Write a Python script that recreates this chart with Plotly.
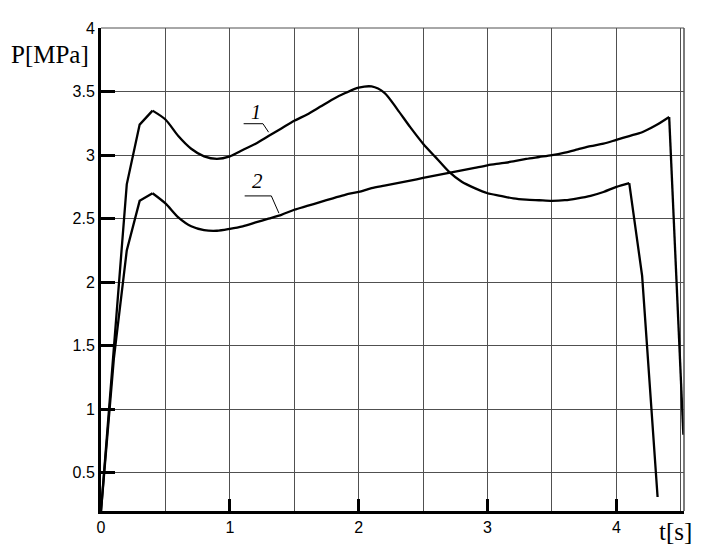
import plotly.graph_objects as go

# Curve 1
t1 = [0.0, 0.1, 0.2, 0.3, 0.4, 0.5, 0.6, 0.7, 0.8, 0.9, 1.0, 1.1, 1.2, 1.3, 1.4,
      1.5, 1.6, 1.7, 1.8, 1.9, 2.0, 2.1, 2.2, 2.3, 2.4, 2.5, 2.6, 2.7, 2.8, 2.9,
      3.0, 3.1, 3.2, 3.3, 3.4, 3.5, 3.6, 3.7, 3.8, 3.9, 4.0, 4.1, 4.2, 4.32]
p1 = [0.2, 1.5, 2.77, 3.24, 3.35, 3.28, 3.15, 3.05, 2.99, 2.97, 2.99, 3.04, 3.09,
      3.15, 3.21, 3.27, 3.32, 3.38, 3.44, 3.49, 3.53, 3.54, 3.49, 3.36, 3.22, 3.09,
      2.98, 2.87, 2.79, 2.74, 2.70, 2.68, 2.66, 2.65, 2.645, 2.64, 2.645, 2.66,
      2.68, 2.71, 2.75, 2.78, 2.05, 0.31]

# Curve 2
t2 = [0.0, 0.1, 0.2, 0.3, 0.4, 0.5, 0.6, 0.7, 0.8, 0.9, 1.0, 1.1, 1.2, 1.3, 1.4,
      1.5, 1.6, 1.7, 1.8, 1.9, 2.0, 2.1, 2.2, 2.3, 2.4, 2.5, 2.6, 2.7, 2.8, 2.9,
      3.0, 3.1, 3.2, 3.3, 3.4, 3.5, 3.6, 3.7, 3.8, 3.9, 4.0, 4.1, 4.2, 4.3, 4.41, 4.52]
p2 = [0.2, 1.4, 2.25, 2.64, 2.70, 2.62, 2.51, 2.44, 2.41, 2.405, 2.42, 2.44, 2.47,
      2.50, 2.53, 2.57, 2.60, 2.63, 2.66, 2.69, 2.71, 2.74, 2.76, 2.78, 2.80, 2.82,
      2.84, 2.86, 2.88, 2.90, 2.92, 2.935, 2.95, 2.97, 2.985, 3.00, 3.02, 3.045,
      3.07, 3.09, 3.12, 3.15, 3.18, 3.23, 3.30, 0.80]

x_ticks = [0, 1, 2, 3, 4]
x_ticklabels = ["0", "1", "2", "3", "4"]
y_ticks = [0.5, 1, 1.5, 2, 2.5, 3, 3.5, 4]
y_ticklabels = ["0.5", "1", "1.5", "2", "2.5", "3", "3.5", "4"]

XR = [0, 4.525]
YR = [0.2, 4.0]

fig = go.Figure()
LW = 2.3


def add_curve(t, p, peak_idx, drop_idx):
    # steep rise: straight segments
    fig.add_trace(go.Scatter(x=t[:peak_idx + 1], y=p[:peak_idx + 1], mode="lines",
                             line=dict(color="black", width=LW), showlegend=False))
    # smooth middle part
    fig.add_trace(go.Scatter(x=t[peak_idx:drop_idx + 1], y=p[peak_idx:drop_idx + 1],
                             mode="lines", line=dict(color="black", width=LW,
                                                     shape="spline", smoothing=0.8),
                             showlegend=False))
    # steep drop: straight segments
    fig.add_trace(go.Scatter(x=t[drop_idx:], y=p[drop_idx:], mode="lines",
                             line=dict(color="black", width=LW), showlegend=False))


add_curve(t1, p1, 4, 41)
add_curve(t2, p2, 4, 44)

grid = "#505050"
fig.update_xaxes(range=XR, tickvals=x_ticks, ticktext=x_ticklabels, showgrid=True,
                 gridcolor=grid, gridwidth=1, ticks="inside", ticklen=12, tickwidth=3,
                 tickcolor="black", showline=True, linecolor="black", linewidth=3,
                 zeroline=False, tickfont=dict(family="Liberation Sans", size=16, color="black"),
                 minor=dict(dtick=0.5, tick0=0, showgrid=True, gridcolor=grid, gridwidth=1, ticks=""))
fig.update_yaxes(range=YR, tickvals=y_ticks, ticktext=y_ticklabels, showgrid=True,
                 gridcolor=grid, gridwidth=1, ticks="inside", ticklen=14, tickwidth=3,
                 tickcolor="black", showline=True, linecolor="black", linewidth=3,
                 zeroline=False, tickfont=dict(family="Liberation Sans", size=16, color="black"))

# borders top/right
fig.add_shape(type="line", xref="paper", yref="paper", x0=0, x1=1, y0=1, y1=1,
              line=dict(color=grid, width=1))
fig.add_shape(type="line", xref="paper", yref="paper", x0=1, x1=1, y0=0, y1=1,
              line=dict(color=grid, width=1.5))

# leader lines for curve labels
fig.add_shape(type="path", path="M 1.107 3.247 L 1.257 3.247 L 1.301 3.180",
              line=dict(color="black", width=1))
fig.add_shape(type="path", path="M 1.115 2.679 L 1.322 2.679 L 1.381 2.543",
              line=dict(color="black", width=1))

fig.add_annotation(x=1.206, y=3.342, text="<i>1</i>", showarrow=False,
                   font=dict(family="Liberation Serif", size=20, color="black"))
fig.add_annotation(x=1.218, y=2.793, text="<i>2</i>", showarrow=False,
                   font=dict(family="Liberation Serif", size=21, color="black"))

fig.add_annotation(xref="paper", yref="paper", x=-0.018, y=0.945, xanchor="right",
                   yanchor="middle", text="P[MPa]", showarrow=False,
                   font=dict(family="Liberation Serif", size=25, color="black"))
fig.add_annotation(xref="paper", yref="paper", x=0.986, y=-0.043, xanchor="center",
                   yanchor="middle", text="t[s]", showarrow=False,
                   font=dict(family="Liberation Serif", size=25, color="black"))

fig.update_layout(width=708, height=553, margin=dict(l=93, r=32, t=12, b=50),
                  plot_bgcolor="white", paper_bgcolor="white")

fig.write_html("out.html")
